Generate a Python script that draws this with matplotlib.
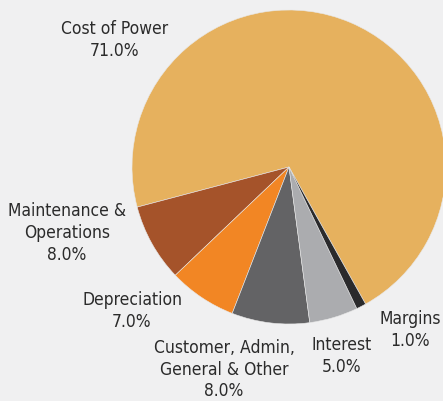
import matplotlib.pyplot as plt

labels = ["Cost of Power", "Maintenance &\nOperations", "Depreciation",
          "Customer, Admin,\nGeneral & Other", "Interest", "Margins"]
shares = [71.0, 8.0, 7.0, 8.0, 5.0, 1.0]
colors = ["#E6B15E", "#A5532A", "#F28624", "#636365", "#ABACAF", "#2A2A2C"]

# label centres in pixel coords (y from top)
label_pos = [(115, 40), (67, 233), (132, 311), (224, 370), (342, 356), (410, 330)]

W, H = 443, 402
fig = plt.figure(figsize=(W / 100, H / 100), dpi=100)
fig.patch.set_facecolor("#F0F0F1")
ax = fig.add_axes([0, 0, 1, 1])
ax.set_facecolor("#F0F0F1")

ax.pie(shares, colors=colors, startangle=-60.8, counterclock=True,
       center=(289, H - 168), radius=157,
       wedgeprops=dict(linewidth=0.4, edgecolor="#E8E8E8"))

for lab, val, (x, y) in zip(labels, shares, label_pos):
    ax.text(x, H - y, f"{lab}\n{val:.1f}%", ha="center", va="center",
            fontsize=12.5, color="#2B2B2B", linespacing=1.25,
            family="DejaVu Sans", fontstretch="condensed", fontweight="light")

ax.set_xlim(0, W)
ax.set_ylim(0, H)
ax.set_aspect("equal")
ax.axis("off")

fig.savefig("out.png", dpi=100, facecolor=fig.get_facecolor())
